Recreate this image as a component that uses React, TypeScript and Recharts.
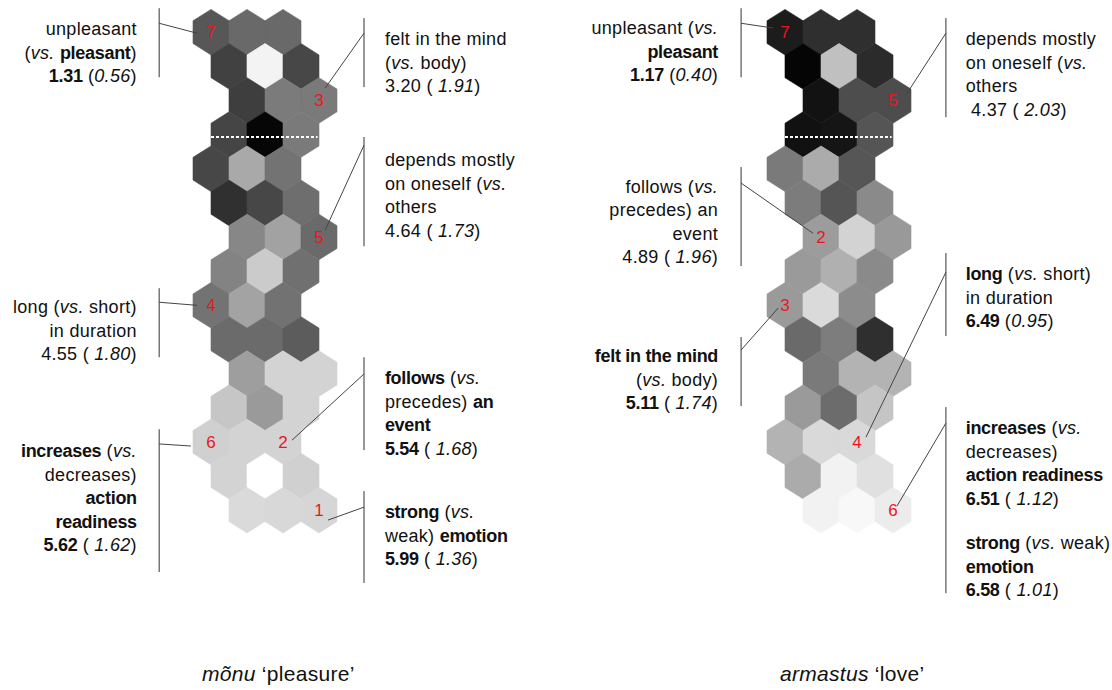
import React from "react";
import { ReferenceLine, Scatter, ScatterChart, XAxis, YAxis } from "recharts";

// Lattice: 15 rows of 3 hex cells, every row shifted sideways in half-cell steps
const ROW_SHIFT = [0, 0.5, 1, 0.5, 0, 0.5, 1, 0.5, 0, 0.5, 1, 0.5, 0, 0.5, 1];

// grey level of each cell (0 = black, 255 = white), top row first
const PLEASURE_SHADES = [
  [87, 105, 105],
  [65, 243, 71],
  [62, 123, 122],
  [69, 6, 122],
  [71, 169, 115],
  [48, 71, 110],
  [135, 162, 106],
  [131, 203, 112],
  [115, 163, 114],
  [107, 107, 92],
  [158, 211, 211],
  [198, 154, 211],
  [208, 211, 211],
  [211, 255, 208],
  [218, 216, 214],
];

const LOVE_SHADES = [
  [28, 47, 47],
  [5, 192, 43],
  [18, 77, 77],
  [17, 21, 85],
  [122, 171, 86],
  [124, 85, 138],
  [156, 211, 153],
  [154, 176, 138],
  [154, 218, 140],
  [106, 125, 47],
  [122, 179, 179],
  [154, 108, 197],
  [179, 217, 217],
  [171, 242, 224],
  [242, 248, 236],
];

// numbered cells: [number, row, col]
const PLEASURE_MARKS = [
  [7, 0, 0],
  [3, 2, 2],
  [5, 6, 2],
  [4, 8, 0],
  [6, 12, 0],
  [2, 12, 2],
  [1, 14, 2],
];

const LOVE_MARKS = [
  [7, 0, 0],
  [5, 2, 2],
  [2, 6, 0],
  [3, 8, 0],
  [4, 12, 2],
  [6, 14, 2],
];

type Seg = [string, ("b" | "i")?];
type Block = { x: number; y: number; anchor: "start" | "end"; size?: number; lines: Seg[][] };

const PLEASURE_NOTES: Block[] = [
  {
    x: -2.06, y: 0.09, anchor: "end",
    lines: [
      [["unpleasant"]],
      [["("], ["vs.", "i"], [" "], ["pleasant", "b"], [")"]],
      [["1.31", "b"], [" ("], ["0.56", "i"], [")"]],
    ],
  },
  {
    x: -2.06, y: 8.23, anchor: "end",
    lines: [
      [["long ("], ["vs.", "i"], [" short)"]],
      [["in duration"]],
      [["4.55 ( "], ["1.80", "i"], [")"]],
    ],
  },
  {
    x: -2.06, y: 12.45, anchor: "end",
    lines: [
      [["increases", "b"], [" ("], ["vs.", "i"]],
      [["decreases)"]],
      [["action", "b"]],
      [["readiness", "b"]],
      [["5.62", "b"], [" ( "], ["1.62", "i"], [")"]],
    ],
  },
  {
    x: 4.83, y: 0.38, anchor: "start",
    lines: [
      [["felt in the mind"]],
      [["("], ["vs.", "i"], [" body)"]],
      [["3.20 ( "], ["1.91", "i"], [")"]],
    ],
  },
  {
    x: 4.83, y: 3.92, anchor: "start",
    lines: [
      [["depends mostly"]],
      [["on oneself ("], ["vs.", "i"]],
      [["others"]],
      [["4.64 ( "], ["1.73", "i"], [")"]],
    ],
  },
  {
    x: 4.83, y: 10.31, anchor: "start",
    lines: [
      [["follows", "b"], [" ("], ["vs.", "i"]],
      [["precedes) "], ["an", "b"]],
      [["event", "b"]],
      [["5.54", "b"], [" ( "], ["1.68", "i"], [")"]],
    ],
  },
  {
    x: 4.83, y: 14.23, anchor: "start",
    lines: [
      [["strong", "b"], [" ("], ["vs.", "i"]],
      [["weak) "], ["emotion", "b"]],
      [["5.99", "b"], [" ( "], ["1.36", "i"], [")"]],
    ],
  },
  { x: -0.25, y: 19.0, anchor: "start", size: 21, lines: [[["mõnu", "i"], [" ‘pleasure’"]]] },
];

const LOVE_NOTES: Block[] = [
  {
    x: -1.86, y: 0.06, anchor: "end",
    lines: [
      [["unpleasant ("], ["vs.", "i"]],
      [["pleasant", "b"]],
      [["1.17", "b"], [" ("], ["0.40", "i"], [")"]],
    ],
  },
  {
    x: -1.86, y: 4.71, anchor: "end",
    lines: [
      [["follows ("], ["vs.", "i"]],
      [["precedes) an"]],
      [["event"]],
      [["4.89 ( "], ["1.96", "i"], [")"]],
    ],
  },
  {
    x: -1.86, y: 9.66, anchor: "end",
    lines: [
      [["felt in the mind", "b"]],
      [["("], ["vs.", "i"], [" body)"]],
      [["5.11", "b"], [" ( "], ["1.74", "i"], [")"]],
    ],
  },
  {
    x: 5.02, y: 0.38, anchor: "start",
    lines: [
      [["depends mostly"]],
      [["on oneself ("], ["vs.", "i"]],
      [["others"]],
      [[" 4.37 ( "], ["2.03", "i"], [")"]],
    ],
  },
  {
    x: 5.02, y: 7.26, anchor: "start",
    lines: [
      [["long", "b"], [" ("], ["vs.", "i"], [" short)"]],
      [["in duration"]],
      [["6.49", "b"], [" ("], ["0.95", "i"], [")"]],
    ],
  },
  {
    x: 5.02, y: 11.77, anchor: "start",
    lines: [
      [["increases", "b"], [" ("], ["vs.", "i"]],
      [["decreases)"]],
      [["action readiness", "b"]],
      [["6.51", "b"], [" ( "], ["1.12", "i"], [")"]],
    ],
  },
  {
    x: 5.02, y: 15.14, anchor: "start",
    lines: [
      [["strong", "b"], [" ("], ["vs.", "i"], [" weak)"]],
      [["emotion", "b"]],
      [["6.58", "b"], [" ( "], ["1.01", "i"], [")"]],
    ],
  },
  { x: -0.14, y: 19.0, anchor: "start", size: 21, lines: [[["armastus", "i"], [" ‘love’"]]] },
];

// vertical brackets beside each note: [x, yTop, yBottom]
const PLEASURE_BRACKETS = [
  [-1.44, -0.7, 1.32],
  [-1.44, 7.5, 9.52],
  [-1.44, 11.63, 15.81],
  [4.25, -0.41, 1.61],
  [4.25, 3.07, 6.27],
  [4.25, 9.52, 12.24],
  [4.25, 13.44, 16.13],
];

const LOVE_BRACKETS = [
  [-1.22, -0.7, 1.32],
  [-1.22, 3.95, 6.85],
  [-1.22, 8.93, 10.95],
  [4.47, -0.41, 2.49],
  [4.47, 6.47, 8.9],
  [4.47, 10.98, 16.43],
];

// pointers from a bracket to its numbered cell: [x1, y1, x2, y2]
const PLEASURE_LEADERS = [
  [-1.44, -0.26, -0.39, 0.03],
  [-1.44, 7.91, -0.39, 8.0],
  [-1.44, 12.06, -0.56, 12.12],
  [4.25, 0.03, 3.17, 1.64],
  [4.25, 3.31, 3.17, 5.8],
  [4.25, 10.01, 2.25, 11.95],
  [4.25, 13.91, 3.25, 14.29],
];

const LOVE_LEADERS = [
  [-1.22, -0.26, -0.33, -0.12],
  [-1.22, 4.42, 0.78, 5.89],
  [-1.22, 9.31, -0.19, 8.08],
  [4.47, 0.03, 3.39, 1.79],
  [4.47, 7.03, 2.25, 11.86],
  [4.47, 11.45, 3.11, 13.88],
];

// white dotted divider across the fourth row
const DIVIDER = [
  { x: 0, y: 3.07 },
  { x: 2.96, y: 3.07 },
];

const X_DOMAIN: [number, number] = [-6, 9.5];
const Y_DOMAIN: [number, number] = [-1, 19.5];
const CHART_W = 558;
const CHART_H = 700;
const PX_X = CHART_W / (X_DOMAIN[1] - X_DOMAIN[0]);
const PX_Y = CHART_H / (Y_DOMAIN[1] - Y_DOMAIN[0]);
const FONT = "'Liberation Sans', Arial, sans-serif";

const HexCell = (props: any) => {
  const { cx, cy, payload } = props;
  const hw = PX_X / 2;
  const tip = (PX_Y * 2) / 3;
  const side = PX_Y / 3;
  const pts = [
    [cx, cy - tip],
    [cx + hw, cy - side],
    [cx + hw, cy + side],
    [cx, cy + tip],
    [cx - hw, cy + side],
    [cx - hw, cy - side],
  ]
    .map((p) => p.join(","))
    .join(" ");
  const g = payload.shade;
  const fill = `rgb(${g},${g},${g})`;
  return <polygon points={pts} fill={fill} stroke={fill} strokeWidth={0.6} />;
};

const Blank = () => <g />;

const CellNumber = (props: any) => (
  <text x={props.cx} y={props.cy + 6} textAnchor="middle" fontFamily={FONT} fontSize={17} fill="#e8171e">
    {props.payload.n}
  </text>
);

const NoteText = (props: any) => {
  const { cx, cy, payload } = props;
  return (
    <g>
      {payload.lines.map((line: Seg[], i: number) => (
        <text
          key={i}
          x={cx}
          y={cy + i * 23.5}
          textAnchor={payload.anchor}
          fontFamily={FONT}
          fontSize={payload.size ?? 18}
          fill="#111"
          style={{ whiteSpace: "pre" }}
        >
          {line.map(([t, s], j) => (
            <tspan
              key={j}
              fontWeight={s === "b" ? "bold" : "normal"}
              fontStyle={s === "i" ? "italic" : "normal"}
              letterSpacing={s === "b" ? -0.3 : 0.3}
            >
              {t}
            </tspan>
          ))}
        </text>
      ))}
    </g>
  );
};

type PanelProps = {
  left: number;
  top: number;
  shades: number[][];
  marks: number[][];
  notes: Block[];
  brackets: number[][];
  leaders: number[][];
};

function MapPanel({ left, top, shades, marks, notes, brackets, leaders }: PanelProps) {
  const cells = shades.flatMap((row, r) => row.map((shade, c) => ({ x: ROW_SHIFT[r] + c, y: r, shade })));
  const numbers = marks.map(([n, r, c]) => ({ x: ROW_SHIFT[r] + c, y: r, n }));

  return (
    <div style={{ position: "absolute", left, top }}>
      <ScatterChart width={CHART_W} height={CHART_H} margin={{ top: 0, right: 0, bottom: 0, left: 0 }}>
        <XAxis type="number" dataKey="x" domain={X_DOMAIN} allowDataOverflow hide />
        <YAxis type="number" dataKey="y" domain={Y_DOMAIN} allowDataOverflow reversed hide />
        {brackets.map(([x, y1, y2], i) => (
          <ReferenceLine
            key={`b${i}`}
            segment={[{ x, y: y1 }, { x, y: y2 }]}
            stroke="#333"
            strokeWidth={1}
            ifOverflow="visible"
          />
        ))}
        <Scatter data={cells} shape={HexCell} isAnimationActive={false} />
        <Scatter
          data={DIVIDER}
          shape={Blank}
          line={{ stroke: "#fff", strokeWidth: 2, strokeDasharray: "3 2" }}
          isAnimationActive={false}
        />
        <Scatter data={numbers} shape={CellNumber} isAnimationActive={false} />
        {leaders.map(([x1, y1, x2, y2], i) => (
          <Scatter
            key={`l${i}`}
            data={[{ x: x1, y: y1 }, { x: x2, y: y2 }]}
            shape={Blank}
            line={{ stroke: "#444", strokeWidth: 1 }}
            isAnimationActive={false}
          />
        ))}
        <Scatter data={notes} shape={NoteText} isAnimationActive={false} />
      </ScatterChart>
    </div>
  );
}

// row 0 centre sits 32px below the top; first cell centres at 211px and 785px
const TOP = 32 + Y_DOMAIN[0] * PX_Y;

export default function App() {
  return (
    <div
      style={{
        position: "absolute",
        left: 0,
        top: 0,
        width: 1112,
        height: 690,
        overflow: "hidden",
        background: "#fff",
      }}
    >
      <MapPanel
        left={211 + X_DOMAIN[0] * PX_X}
        top={TOP}
        shades={PLEASURE_SHADES}
        marks={PLEASURE_MARKS}
        notes={PLEASURE_NOTES}
        brackets={PLEASURE_BRACKETS}
        leaders={PLEASURE_LEADERS}
      />
      <MapPanel
        left={785 + X_DOMAIN[0] * PX_X}
        top={TOP}
        shades={LOVE_SHADES}
        marks={LOVE_MARKS}
        notes={LOVE_NOTES}
        brackets={LOVE_BRACKETS}
        leaders={LOVE_LEADERS}
      />
    </div>
  );
}
